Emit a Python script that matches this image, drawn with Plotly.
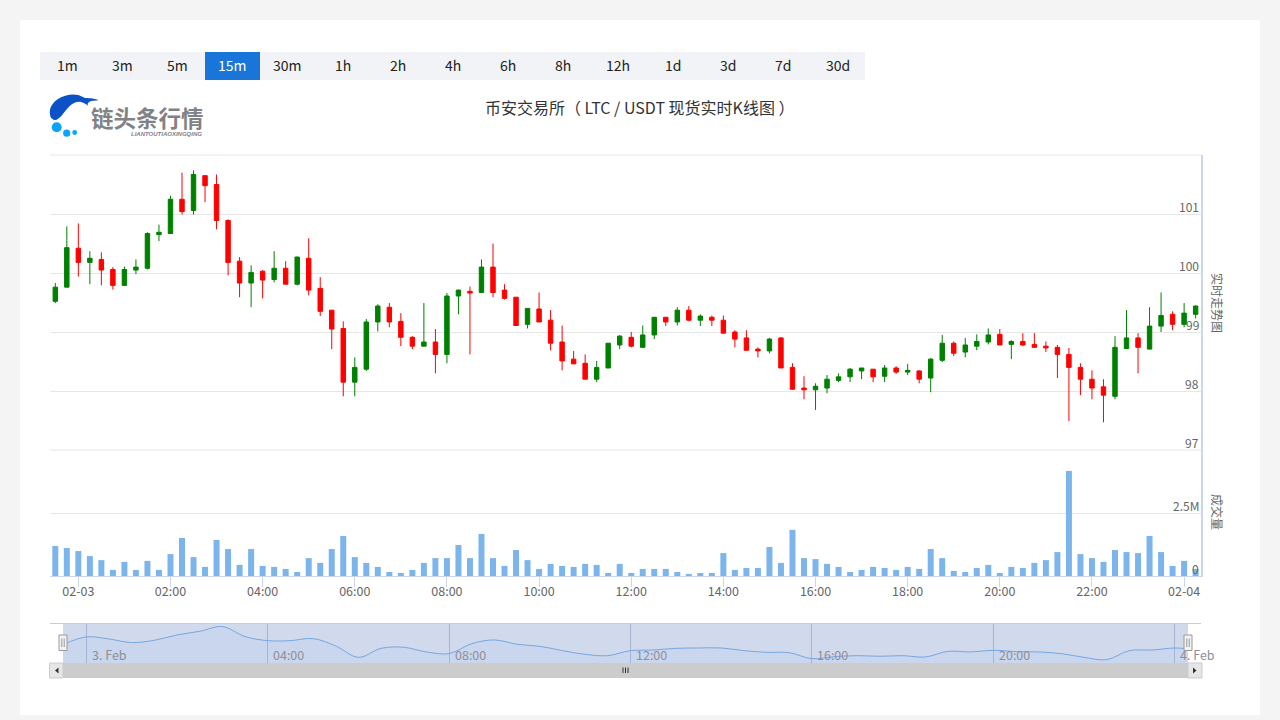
import plotly.graph_objects as go
import pandas as pd

W, H = 1280, 720
FONT = "Noto Sans CJK SC, Open Sans, sans-serif"

opens = [99.52,99.76,100.42,100.18,100.23,100.06,99.79,100.05,100.08,100.65,
         100.67,101.25,101.06,101.65,101.50,100.89,100.20,99.83,100.03,99.89,
         100.08,99.81,100.25,99.74,99.37,99.06,98.15,98.37,99.17,99.42,
         99.18,98.91,98.76,98.83,98.62,99.61,99.69,99.67,100.10,99.71,
         99.59,99.13,99.39,99.20,98.83,98.54,98.47,98.20,98.39,98.78,
         98.91,98.74,98.95,99.25,99.17,99.37,99.20,99.25,99.20,99.00,
         98.90,98.71,98.68,98.90,98.40,98.05,98.02,98.05,98.18,98.24,
         98.34,98.37,98.25,98.39,98.32,98.34,98.22,98.52,98.81,98.66,
         98.76,98.83,98.96,98.79,98.84,98.79,98.76,98.74,98.62,98.40,
         98.20,98.07,97.91,98.72,98.90,98.71,99.10,99.30,99.13,99.30]
highs = [99.83,100.79,100.84,100.37,100.35,100.10,100.11,100.23,100.69,100.82,
         101.31,101.70,101.74,101.65,101.67,100.91,100.27,100.13,100.05,100.37,
         100.20,100.28,100.59,99.93,99.37,99.18,98.57,99.22,99.47,99.49,
         99.32,98.93,99.49,99.05,99.66,99.72,99.77,100.23,100.50,99.81,
         99.59,99.40,99.67,99.37,99.11,98.68,98.62,98.51,98.81,98.95,
         99.00,99.11,99.25,99.25,99.42,99.44,99.30,99.28,99.28,99.03,
         99.03,98.74,98.90,98.91,98.47,98.25,98.13,98.27,98.30,98.39,
         98.39,98.37,98.44,98.42,98.46,98.35,98.56,98.95,98.84,98.90,
         98.96,99.06,99.05,98.86,98.98,98.98,98.84,98.78,98.73,98.47,
         98.35,98.20,98.93,99.37,98.98,99.42,99.67,99.35,99.49,99.45]
lows = [99.49,99.76,99.94,99.81,99.79,99.72,99.79,99.98,100.06,100.54,
        100.67,100.99,100.99,101.20,100.74,99.96,99.59,99.42,99.57,99.84,
        99.81,99.79,99.62,99.27,98.71,97.91,97.91,98.34,99.01,99.08,
        98.76,98.71,98.76,98.30,98.47,99.30,98.62,99.67,99.59,99.55,
        99.11,99.06,99.17,98.69,98.35,98.46,98.20,98.15,98.39,98.71,
        98.74,98.74,98.88,99.10,99.11,99.18,99.10,99.10,98.98,98.74,
        98.69,98.57,98.64,98.39,98.02,97.86,97.68,97.96,98.15,98.15,
        98.20,98.15,98.15,98.29,98.27,98.13,97.98,98.49,98.59,98.57,
        98.69,98.79,98.78,98.54,98.76,98.73,98.66,98.22,97.49,97.93,
        97.86,97.47,97.86,98.71,98.30,98.71,99.00,99.03,99.08,99.23]
closes = [99.76,100.43,100.18,100.25,100.05,99.79,100.06,100.10,100.67,100.69,
          101.25,101.04,101.67,101.48,100.89,100.18,99.83,100.01,99.88,100.08,
          99.81,100.27,99.71,99.35,99.05,98.15,98.40,99.17,99.44,99.17,
          98.91,98.76,98.83,98.62,99.61,99.71,99.66,100.10,99.67,99.57,
          99.11,99.40,99.17,98.81,98.51,98.46,98.20,98.40,98.81,98.93,
          98.76,98.95,99.25,99.17,99.37,99.20,99.27,99.20,98.98,98.88,
          98.69,98.68,98.88,98.39,98.03,98.02,98.08,98.20,98.24,98.37,
          98.39,98.24,98.39,98.32,98.35,98.20,98.54,98.81,98.64,98.78,
          98.84,98.95,98.78,98.84,98.78,98.74,98.73,98.62,98.40,98.20,
          98.05,97.93,98.74,98.90,98.74,99.10,99.28,99.13,99.32,99.44]
volumes_m = [1.19,1.11,0.99,0.79,0.63,0.24,0.56,0.24,0.60,0.24,
             0.87,1.51,0.75,0.36,1.43,1.07,0.44,1.07,0.40,0.36,
             0.28,0.16,0.71,0.52,1.07,1.59,0.75,0.52,0.36,0.16,
             0.12,0.24,0.52,0.71,0.71,1.23,0.71,1.67,0.71,0.40,
             1.03,0.63,0.28,0.48,0.40,0.36,0.48,0.44,0.12,0.48,
             0.12,0.28,0.28,0.28,0.16,0.08,0.12,0.12,0.91,0.24,
             0.32,0.32,1.15,0.52,1.83,0.71,0.67,0.48,0.36,0.16,
             0.24,0.36,0.32,0.24,0.36,0.28,1.07,0.71,0.20,0.16,
             0.32,0.44,0.12,0.36,0.32,0.52,0.63,0.95,4.17,0.87,
             0.71,0.56,1.03,0.95,0.91,1.59,0.95,0.40,0.60,0.28]
times = pd.date_range("2023-02-02 23:30", periods=len(closes), freq="15min")

# navigator overview line, read half-hourly from the picture, plus the final point
nav_values = [99.60,100.43,100.20,99.79,100.05,100.65,101.07,101.60,100.47,100.01,
              100.01,100.24,99.41,98.12,99.14,99.26,98.73,98.54,99.67,100.09,
              99.60,99.37,98.88,98.46,98.31,98.88,98.95,99.14,99.18,99.18,
              98.88,98.69,98.65,97.97,98.20,98.31,98.24,98.31,98.16,98.80,
              98.73,98.92,98.77,98.73,98.54,98.12,97.86,98.88,98.95,99.18,99.11]
nav_times = list(pd.date_range("2023-02-02 23:30", periods=len(nav_values) - 1, freq="30min")) + [times[-1]]

periods = ["1m","3m","5m","15m","30m","1h","2h","4h","6h","8h","12h","1d","3d","7d","30d"]
active_period = "15m"
title_text = "币安交易所（ LTC / USDT 现货实时K线图 ）"

x_tick_vals = ["2023-02-03 00:00","2023-02-03 02:00","2023-02-03 04:00","2023-02-03 06:00",
               "2023-02-03 08:00","2023-02-03 10:00","2023-02-03 12:00","2023-02-03 14:00",
               "2023-02-03 16:00","2023-02-03 18:00","2023-02-03 20:00","2023-02-03 22:00",
               "2023-02-04 00:00"]
x_tick_text = ["02-03","02:00","04:00","06:00","08:00","10:00","12:00","14:00",
               "16:00","18:00","20:00","22:00","02-04"]
price_ticks = [97,98,99,100,101,102]
price_labels = ["97","98","99","100","101",""]
vol_ticks = [0,2.5,5]
vol_labels = ["0","2.5M",""]
nav_tick_vals = ["2023-02-03 00:00","2023-02-03 04:00","2023-02-03 08:00","2023-02-03 12:00",
                 "2023-02-03 16:00","2023-02-03 20:00","2023-02-04 00:00"]
nav_tick_text = ["3. Feb","04:00","08:00","12:00","16:00","20:00","4. Feb"]

def fx(px): return px / W
def fy(py): return 1 - py / H

GREEN, RED = "#008000", "#ff0000"
fig = go.Figure()
fig.add_trace(go.Candlestick(
    x=times, open=opens, high=highs, low=lows, close=closes, xaxis="x", yaxis="y",
    increasing=dict(line=dict(color=GREEN, width=1), fillcolor=GREEN),
    decreasing=dict(line=dict(color=RED, width=1), fillcolor=RED),
    whiskerwidth=0, showlegend=False))
fig.add_trace(go.Bar(x=times, y=volumes_m, xaxis="x2", yaxis="y2",
                     marker=dict(color="#7cb5ec", line_width=0), showlegend=False))
fig.add_trace(go.Scatter(x=nav_times, y=nav_values, xaxis="x3", yaxis="y3", mode="lines",
                         line=dict(color="#7cb5ec", width=1, shape="spline", smoothing=1),
                         fill="tozeroy", fillcolor="rgba(149,206,255,0.10)", showlegend=False))

def rect(x0, y0, x1, y1, fill, line=None, layer="below", w=1):
    return dict(type="rect", xref="paper", yref="paper", x0=fx(x0), x1=fx(x1), y0=fy(y0), y1=fy(y1),
                fillcolor=fill, line=dict(color=line or fill, width=w if line else 0), layer=layer)
def circle(cx, cy, r, fill):
    return dict(type="circle", xref="paper", yref="paper", x0=fx(cx-r), x1=fx(cx+r),
                y0=fy(cy+r), y1=fy(cy-r), fillcolor=fill, line_width=0, layer="above")
def pline(x0, y0, x1, y1, color, w=1, layer="above"):
    return dict(type="line", xref="paper", yref="paper", x0=fx(x0), x1=fx(x1), y0=fy(y0), y1=fy(y1),
                line=dict(color=color, width=w), layer=layer)
def P(x, y): return f"{fx(x):.5f},{fy(y):.5f}"

shapes = [rect(20, 20, 1260, 715, "#ffffff"), rect(40, 52, 865, 80, "#f1f3f6")]
anns = []
for i, p in enumerate(periods):
    x0 = 40 + 55 * i
    if p == active_period:
        shapes.append(rect(x0, 52, x0 + 55, 80, "#1976d8"))
    anns.append(dict(x=fx(x0 + 27.5), y=fy(65), xref="paper", yref="paper", text=p, showarrow=False,
                     xanchor="center", yanchor="middle",
                     font=dict(size=14, family=FONT, color="#ffffff" if p == active_period else "#222222")))

# logo
bird = ("M " + P(98.7,100.3) + " C " + P(92,97) + " " + P(85,99) + " " + P(83,97)
        + " C " + P(76,93) + " " + P(66,94) + " " + P(58,99)
        + " C " + P(52,103) + " " + P(49,109) + " " + P(50,114)
        + " C " + P(50,118) + " " + P(53,120) + " " + P(56,120)
        + " C " + P(61,118) + " " + P(64,112) + " " + P(67,109)
        + " C " + P(71,104) + " " + P(76,101) + " " + P(81,102)
        + " C " + P(85,103) + " " + P(87,105) + " " + P(88,106)
        + " C " + P(87,104) + " " + P(88,102) + " " + P(91,101) + " Z")
shapes.append(dict(type="path", xref="paper", yref="paper", path=bird, fillcolor="#0b52c6",
                   line_width=0, layer="above"))
shapes += [circle(56.7,127.3,5,"#0aa5fb"), circle(66.7,133.2,3.6,"#0aa5fb"), circle(74.7,132.5,2.4,"#0aa5fb")]
anns.append(dict(x=fx(147.5), y=fy(117), xref="paper", yref="paper", text="<b>链头条行情</b>", showarrow=False,
                 xanchor="center", yanchor="middle", font=dict(size=22.5, family=FONT, color="#808285")))
anns.append(dict(x=fx(166), y=fy(134), xref="paper", yref="paper", text="<b><i>LIANTOUTIAOXINGQING</i></b>",
                 showarrow=False, xanchor="center", yanchor="middle",
                 font=dict(size=6, family="Liberation Sans", color="#808285")))
anns.append(dict(x=fx(640), y=fy(106.5), xref="paper", yref="paper", text=title_text, showarrow=False,
                 xanchor="center", yanchor="middle", font=dict(size=16, family=FONT, color="#333333")))
anns.append(dict(x=fx(1218), y=fy(303), xref="paper", yref="paper", text="实时走势图", textangle=90, showarrow=False,
                 xanchor="center", yanchor="middle", font=dict(size=12, family=FONT, color="#666666")))
anns.append(dict(x=fx(1218), y=fy(512), xref="paper", yref="paper", text="成交量", textangle=90, showarrow=False,
                 xanchor="center", yanchor="middle", font=dict(size=12, family=FONT, color="#666666")))

# value labels sit inside the plot, just above their grid lines
label_font = dict(size=12, family=FONT, color="#666666")
for tv, tt in zip(price_ticks, price_labels):
    if tt:
        anns.append(dict(x=1, xref="x domain", y=tv, yref="y", text=tt, showarrow=False,
                         xanchor="right", yanchor="middle", yshift=8, font=label_font))
for tv, tt in zip(vol_ticks, vol_labels):
    if tt:
        anns.append(dict(x=1, xref="x2 domain", y=tv, yref="y2", text=tt, showarrow=False,
                         xanchor="right", yanchor="middle", yshift=8, font=label_font))

# grid lines that coincide with the pane edges
shapes.append(pline(50, 155, 1201, 155, "#e6e6e6", layer="below"))
shapes.append(pline(50, 450, 1201, 450, "#e6e6e6", layer="below"))

# navigator furniture
shapes.append(pline(50, 623.5, 1201, 623.5, "#cccccc"))
shapes.append(rect(63, 624, 1188, 663, "rgba(102,133,194,0.30)", layer="above"))
for tv, tt in zip(nav_tick_vals, nav_tick_text):
    anns.append(dict(x=tv, y=fy(654.5), xref="x3", yref="paper", text=tt, showarrow=False, xanchor="left",
                     yanchor="middle", xshift=3.5, font=dict(size=12.5, family=FONT, color="#8f8f98")))
for hx in (63, 1188):
    shapes.append(rect(hx-4, 635, hx+4, 650.5, "#f2f2f2", "#999999", layer="above"))
    shapes.append(pline(hx-1.2, 638.5, hx-1.2, 647, "#999999"))
    shapes.append(pline(hx+1.2, 638.5, hx+1.2, 647, "#999999"))
shapes += [rect(50, 663, 1202, 678, "#cccccc", layer="above"),
           rect(49.5, 663, 63, 678, "#e6e6e6", "#cccccc", layer="above"),
           rect(1188, 663, 1202, 678, "#e6e6e6", "#cccccc", layer="above")]
for dx in (-2.5, 0, 2.5):
    shapes.append(pline(625.5+dx, 667.5, 625.5+dx, 673, "#333333"))
shapes.append(dict(type="path", xref="paper", yref="paper",
                   path="M " + P(58.5,667.5) + " L " + P(55,670.5) + " L " + P(58.5,673.5) + " Z",
                   fillcolor="#333333", line_width=0, layer="above"))
shapes.append(dict(type="path", xref="paper", yref="paper",
                   path="M " + P(1193,667.5) + " L " + P(1196.5,670.5) + " L " + P(1193,673.5) + " Z",
                   fillcolor="#333333", line_width=0, layer="above"))

main_range = ["2023-02-02 23:23:06", "2023-02-04 00:22:00"]
tickfont = dict(size=12.5, family=FONT, color="#666666")
grid = "#e6e6e6"
fig.update_layout(
    width=W, height=H, margin=dict(l=0, r=0, t=0, b=0), autosize=False,
    paper_bgcolor="#f4f4f4", plot_bgcolor="rgba(0,0,0,0)",
    bargap=0.48, boxgap=0.45, dragmode=False, showlegend=False,
    shapes=shapes, annotations=anns, font=dict(family=FONT),
    xaxis=dict(domain=[fx(50), fx(1201)], range=main_range, anchor="y", showticklabels=False, ticks="",
               showgrid=False, zeroline=False, showline=False, rangeslider=dict(visible=False)),
    yaxis=dict(domain=[fy(450), fy(155)], range=[97, 102], anchor="x", side="right",
               tickvals=price_ticks, showticklabels=False, ticks="",
               gridcolor=grid, gridwidth=1, zeroline=False,
               showline=True, linecolor="#ccd6eb", linewidth=2),
    xaxis2=dict(domain=[fx(50), fx(1201)], range=main_range, anchor="y2", tickmode="array",
                tickvals=x_tick_vals, ticktext=x_tick_text, ticks="outside", ticklen=10, tickwidth=1,
                tickcolor="#ccd6eb", tickfont=tickfont, ticklabelstandoff=-6, showgrid=False, zeroline=False,
                showline=True, linecolor="#ccd6eb", linewidth=1),
    yaxis2=dict(domain=[fy(576), fy(450)], range=[0, 5], anchor="x2", side="right",
                tickvals=vol_ticks, showticklabels=False, ticks="",
                gridcolor=grid, gridwidth=1, zeroline=False,
                showline=True, linecolor="#ccd6eb", linewidth=2),
    xaxis3=dict(domain=[fx(50), fx(1202)],
                range=["2023-02-02 23:11:58", "2023-02-04 00:36:06"], anchor="y3", tickmode="array",
                tickvals=nav_tick_vals, showticklabels=False, ticks="", showgrid=True,
                gridcolor="#c4c9d6", gridwidth=1, zeroline=False, showline=False),
    yaxis3=dict(domain=[fy(663), fy(623.5)], range=[97.48, 101.95], anchor="x3",
                showticklabels=False, ticks="", showgrid=False, zeroline=False, showline=False),
)
fig.write_html("out.html", config=dict(displayModeBar=False),
               post_script="document.body.style.margin='0';document.body.style.overflow='hidden';")
